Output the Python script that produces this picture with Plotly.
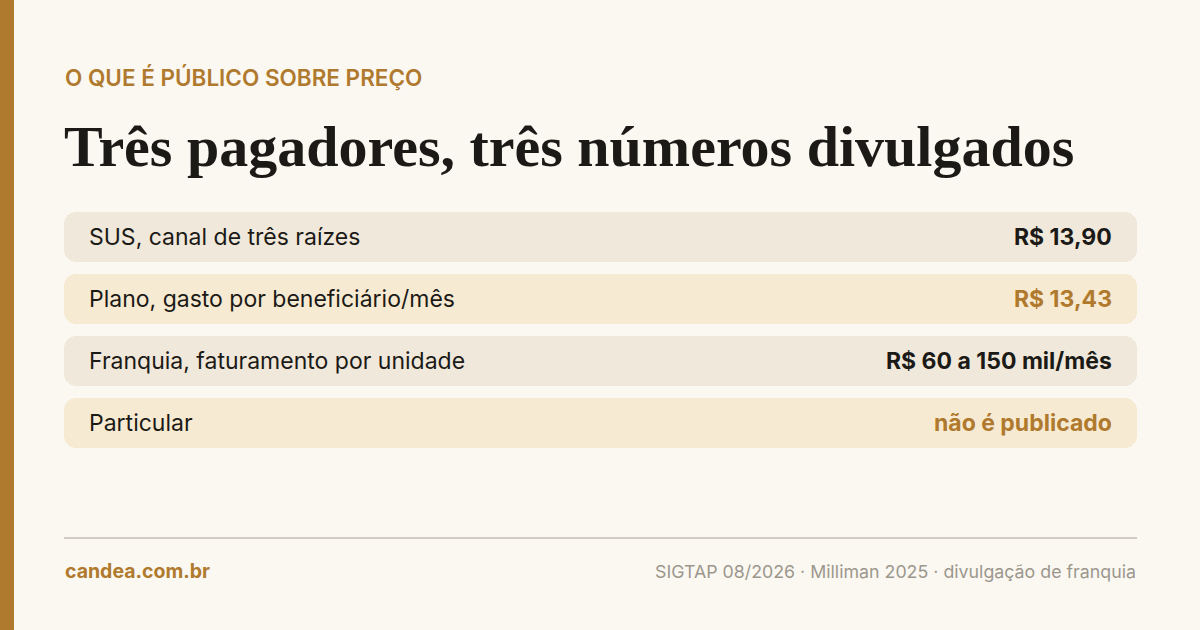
import plotly.graph_objects as go

# ---- data ----
kicker = "O QUE É PÚBLICO SOBRE PREÇO"
title = "Três pagadores, três números divulgados"
categories = [
    "SUS, canal de três raízes",
    "Plano, gasto por beneficiário/mês",
    "Franquia, faturamento por unidade",
    "Particular",
]
values = ["R$ 13,90", "R$ 13,43", "R$ 60 a 150 mil/mês", "não é publicado"]
value_highlight = [False, True, False, True]
footer_left = "candea.com.br"
footer_right = "SIGTAP 08/2026 · Milliman 2025 · divulgação de franquia"

# ---- style ----
W, H = 1200, 630
BG = "#FBF8F2"
GOLD = "#B07A2E"
INK = "#1C1A17"
ROW_A = "#F0E8DA"
ROW_B = "#F7EAD2"
GREY = "#9C978D"
SANS = "Inter, 'Noto Sans', sans-serif"
SERIF = "'Liberation Serif', 'DejaVu Serif', serif"

def py(px):
    return 1 - px / H

row_colors = [ROW_A if i % 2 == 0 else ROW_B for i in range(len(categories))]

fig = go.Figure()
fig.add_trace(go.Bar(
    y=categories,
    x=[1] * len(categories),
    base=0,
    orientation="h",
    width=50 / 62,
    marker=dict(color=row_colors, line=dict(width=0), cornerradius=12),
    hoverinfo="skip",
    showlegend=False,
))

annotations = []
for cat, val, hl in zip(categories, values, value_highlight):
    annotations.append(dict(
        x=87 / W, xref="paper", y=cat, yref="y",
        text=cat, showarrow=False, xanchor="left", yanchor="middle",
        font=dict(family=SANS, size=23, color=INK),
    ))
    annotations.append(dict(
        x=1114 / W, xref="paper", y=cat, yref="y",
        text=f"<b>{val}</b>", showarrow=False, xanchor="right", yanchor="middle",
        font=dict(family=SANS, size=23, color=GOLD if hl else INK),
    ))

annotations += [
    dict(x=63 / W, y=py(77), xref="paper", yref="paper", text=kicker,
         showarrow=False, xanchor="left", yanchor="middle",
         font=dict(family=SANS, size=22.5, color=GOLD, weight=600)),
    dict(x=62 / W, y=py(146), xref="paper", yref="paper", text=f"<b>{title}</b>",
         showarrow=False, xanchor="left", yanchor="middle",
         font=dict(family=SERIF, size=58, color=INK)),
    dict(x=63 / W, y=py(571), xref="paper", yref="paper", text=f"<b>{footer_left}</b>",
         showarrow=False, xanchor="left", yanchor="middle",
         font=dict(family=SANS, size=19.5, color=GOLD)),
    dict(x=1138 / W, y=py(571), xref="paper", yref="paper", text=footer_right,
         showarrow=False, xanchor="right", yanchor="middle",
         font=dict(family=SANS, size=17.8, color=GREY)),
]

shapes = [
    dict(type="rect", xref="paper", yref="paper", x0=0, x1=14 / W, y0=0, y1=1,
         fillcolor=GOLD, line=dict(width=0), layer="below"),
    dict(type="line", xref="paper", yref="paper", x0=64 / W, x1=1137 / W,
         y0=py(538), y1=py(538), line=dict(color="#A6A093", width=1)),
]

fig.update_layout(
    width=W, height=H,
    margin=dict(l=0, r=0, t=0, b=0),
    paper_bgcolor=BG, plot_bgcolor="rgba(0,0,0,0)",
    xaxis=dict(domain=[64 / W, 1137 / W], range=[0, 1], visible=False, fixedrange=True),
    yaxis=dict(domain=[py(454), py(206)], range=[3.5, -0.5], type="category",
               categoryorder="array", categoryarray=categories,
               visible=False, fixedrange=True),
    annotations=annotations,
    shapes=shapes,
    bargap=0,
)

fig.write_html(
    "out.html",
    config={"displayModeBar": False},
    post_script="document.body.style.margin='0';document.body.style.background='%s';" % BG,
)
